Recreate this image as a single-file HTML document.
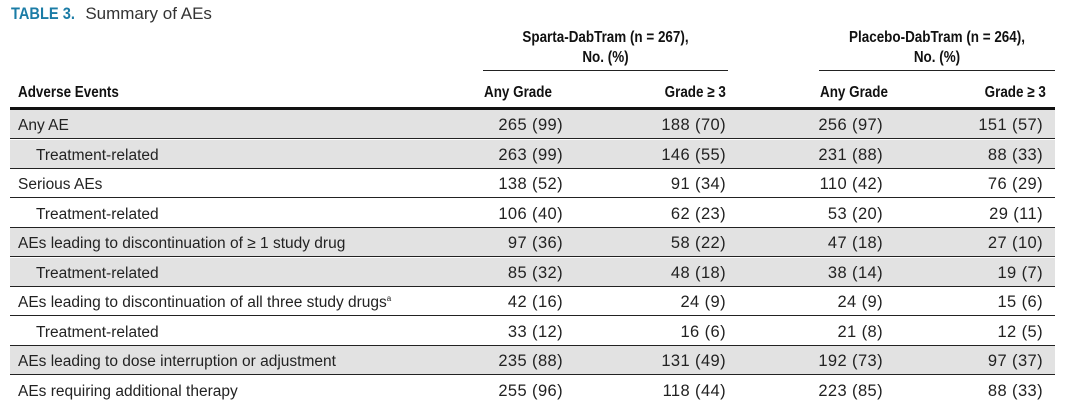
<!DOCTYPE html>
<html><head><style>
body{margin:0;width:1080px;height:412px;background:#fff;position:relative;overflow:hidden;font-family:"Liberation Sans",sans-serif;color:#222}
div{position:absolute;white-space:nowrap}
.b{font-weight:bold;font-size:16px;color:#111;transform:scaleX(0.84);transform-origin:left center}
.br{font-weight:bold;font-size:16px;color:#111;transform:scaleX(0.84);transform-origin:right center}
.bc{font-weight:bold;font-size:16px;color:#111;transform:scaleX(0.84);text-align:center}
.row{left:10px;width:1045px;height:28px;border-bottom:1.5px solid #222}
.sh{background:#e2e2e2}
.lab{font-size:15.5px;line-height:29px;left:18px}
.ind{left:36px}
.n{font-size:16.5px;line-height:29px;text-align:right;letter-spacing:0.4px}
sup{font-size:8px;line-height:0;vertical-align:6px}
</style></head><body>
<div style="left:11px;top:4px;font-size:17px;"><span style="color:#1b7ca6;font-weight:bold;display:inline-block;transform:scaleX(0.86);transform-origin:left">TABLE 3.</span><span style="margin-left:0px;color:#333">Summary of AEs</span></div>

<div class="bc" style="left:483px;width:245px;top:28px;line-height:20px">Sparta-DabTram (n = 267),<br>No. (%)</div>
<div style="left:483px;width:245px;top:70px;border-top:1.5px solid #222"></div>
<div class="bc" style="left:819px;width:236px;top:28px;line-height:20px">Placebo-DabTram (n = 264),<br>No. (%)</div>
<div style="left:819px;width:236px;top:70px;border-top:1.5px solid #222"></div>

<div class="b" style="left:18px;top:84px">Adverse Events</div>
<div class="b" style="left:484px;top:84px">Any Grade</div>
<div class="br" style="right:354px;top:84px">Grade ≥ 3</div>
<div class="b" style="left:820px;top:84px">Any Grade</div>
<div class="br" style="right:34px;top:84px">Grade ≥ 3</div>
<div style="left:10px;width:1045px;top:107px;border-top:3px solid #111"></div>

<div class="row sh" style="top:110px"></div>
<div class="row sh" style="top:139.5px"></div>
<div class="row" style="top:169px"></div>
<div class="row" style="top:198.5px"></div>
<div class="row sh" style="top:228px"></div>
<div class="row sh" style="top:257.5px"></div>
<div class="row" style="top:287px"></div>
<div class="row" style="top:316.5px"></div>
<div class="row sh" style="top:346px"></div>
<div class="row" style="top:375.5px;border-bottom:none"></div>

<div class="lab" style="top:111px">Any AE</div>
<div class="lab ind" style="top:140.5px">Treatment-related</div>
<div class="lab" style="top:170px">Serious AEs</div>
<div class="lab ind" style="top:199.5px">Treatment-related</div>
<div class="lab" style="top:229px">AEs leading to discontinuation of ≥ 1 study drug</div>
<div class="lab ind" style="top:258.5px">Treatment-related</div>
<div class="lab" style="top:288px">AEs leading to discontinuation of all three study drugs<sup>a</sup></div>
<div class="lab ind" style="top:317.5px">Treatment-related</div>
<div class="lab" style="top:347px">AEs leading to dose interruption or adjustment</div>
<div class="lab" style="top:376.5px">AEs requiring additional therapy</div>

<div class="n" style="right:517px;top:111px">265 (99)</div><div class="n" style="right:354px;top:111px">188 (70)</div><div class="n" style="right:197px;top:111px">256 (97)</div><div class="n" style="right:37px;top:111px">151 (57)</div>
<div class="n" style="right:517px;top:140.5px">263 (99)</div><div class="n" style="right:354px;top:140.5px">146 (55)</div><div class="n" style="right:197px;top:140.5px">231 (88)</div><div class="n" style="right:37px;top:140.5px">88 (33)</div>
<div class="n" style="right:517px;top:170px">138 (52)</div><div class="n" style="right:354px;top:170px">91 (34)</div><div class="n" style="right:197px;top:170px">110 (42)</div><div class="n" style="right:37px;top:170px">76 (29)</div>
<div class="n" style="right:517px;top:199.5px">106 (40)</div><div class="n" style="right:354px;top:199.5px">62 (23)</div><div class="n" style="right:197px;top:199.5px">53 (20)</div><div class="n" style="right:37px;top:199.5px">29 (11)</div>
<div class="n" style="right:517px;top:229px">97 (36)</div><div class="n" style="right:354px;top:229px">58 (22)</div><div class="n" style="right:197px;top:229px">47 (18)</div><div class="n" style="right:37px;top:229px">27 (10)</div>
<div class="n" style="right:517px;top:258.5px">85 (32)</div><div class="n" style="right:354px;top:258.5px">48 (18)</div><div class="n" style="right:197px;top:258.5px">38 (14)</div><div class="n" style="right:37px;top:258.5px">19 (7)</div>
<div class="n" style="right:517px;top:288px">42 (16)</div><div class="n" style="right:354px;top:288px">24 (9)</div><div class="n" style="right:197px;top:288px">24 (9)</div><div class="n" style="right:37px;top:288px">15 (6)</div>
<div class="n" style="right:517px;top:317.5px">33 (12)</div><div class="n" style="right:354px;top:317.5px">16 (6)</div><div class="n" style="right:197px;top:317.5px">21 (8)</div><div class="n" style="right:37px;top:317.5px">12 (5)</div>
<div class="n" style="right:517px;top:347px">235 (88)</div><div class="n" style="right:354px;top:347px">131 (49)</div><div class="n" style="right:197px;top:347px">192 (73)</div><div class="n" style="right:37px;top:347px">97 (37)</div>
<div class="n" style="right:517px;top:376.5px">255 (96)</div><div class="n" style="right:354px;top:376.5px">118 (44)</div><div class="n" style="right:197px;top:376.5px">223 (85)</div><div class="n" style="right:37px;top:376.5px">88 (33)</div>
</body></html>
